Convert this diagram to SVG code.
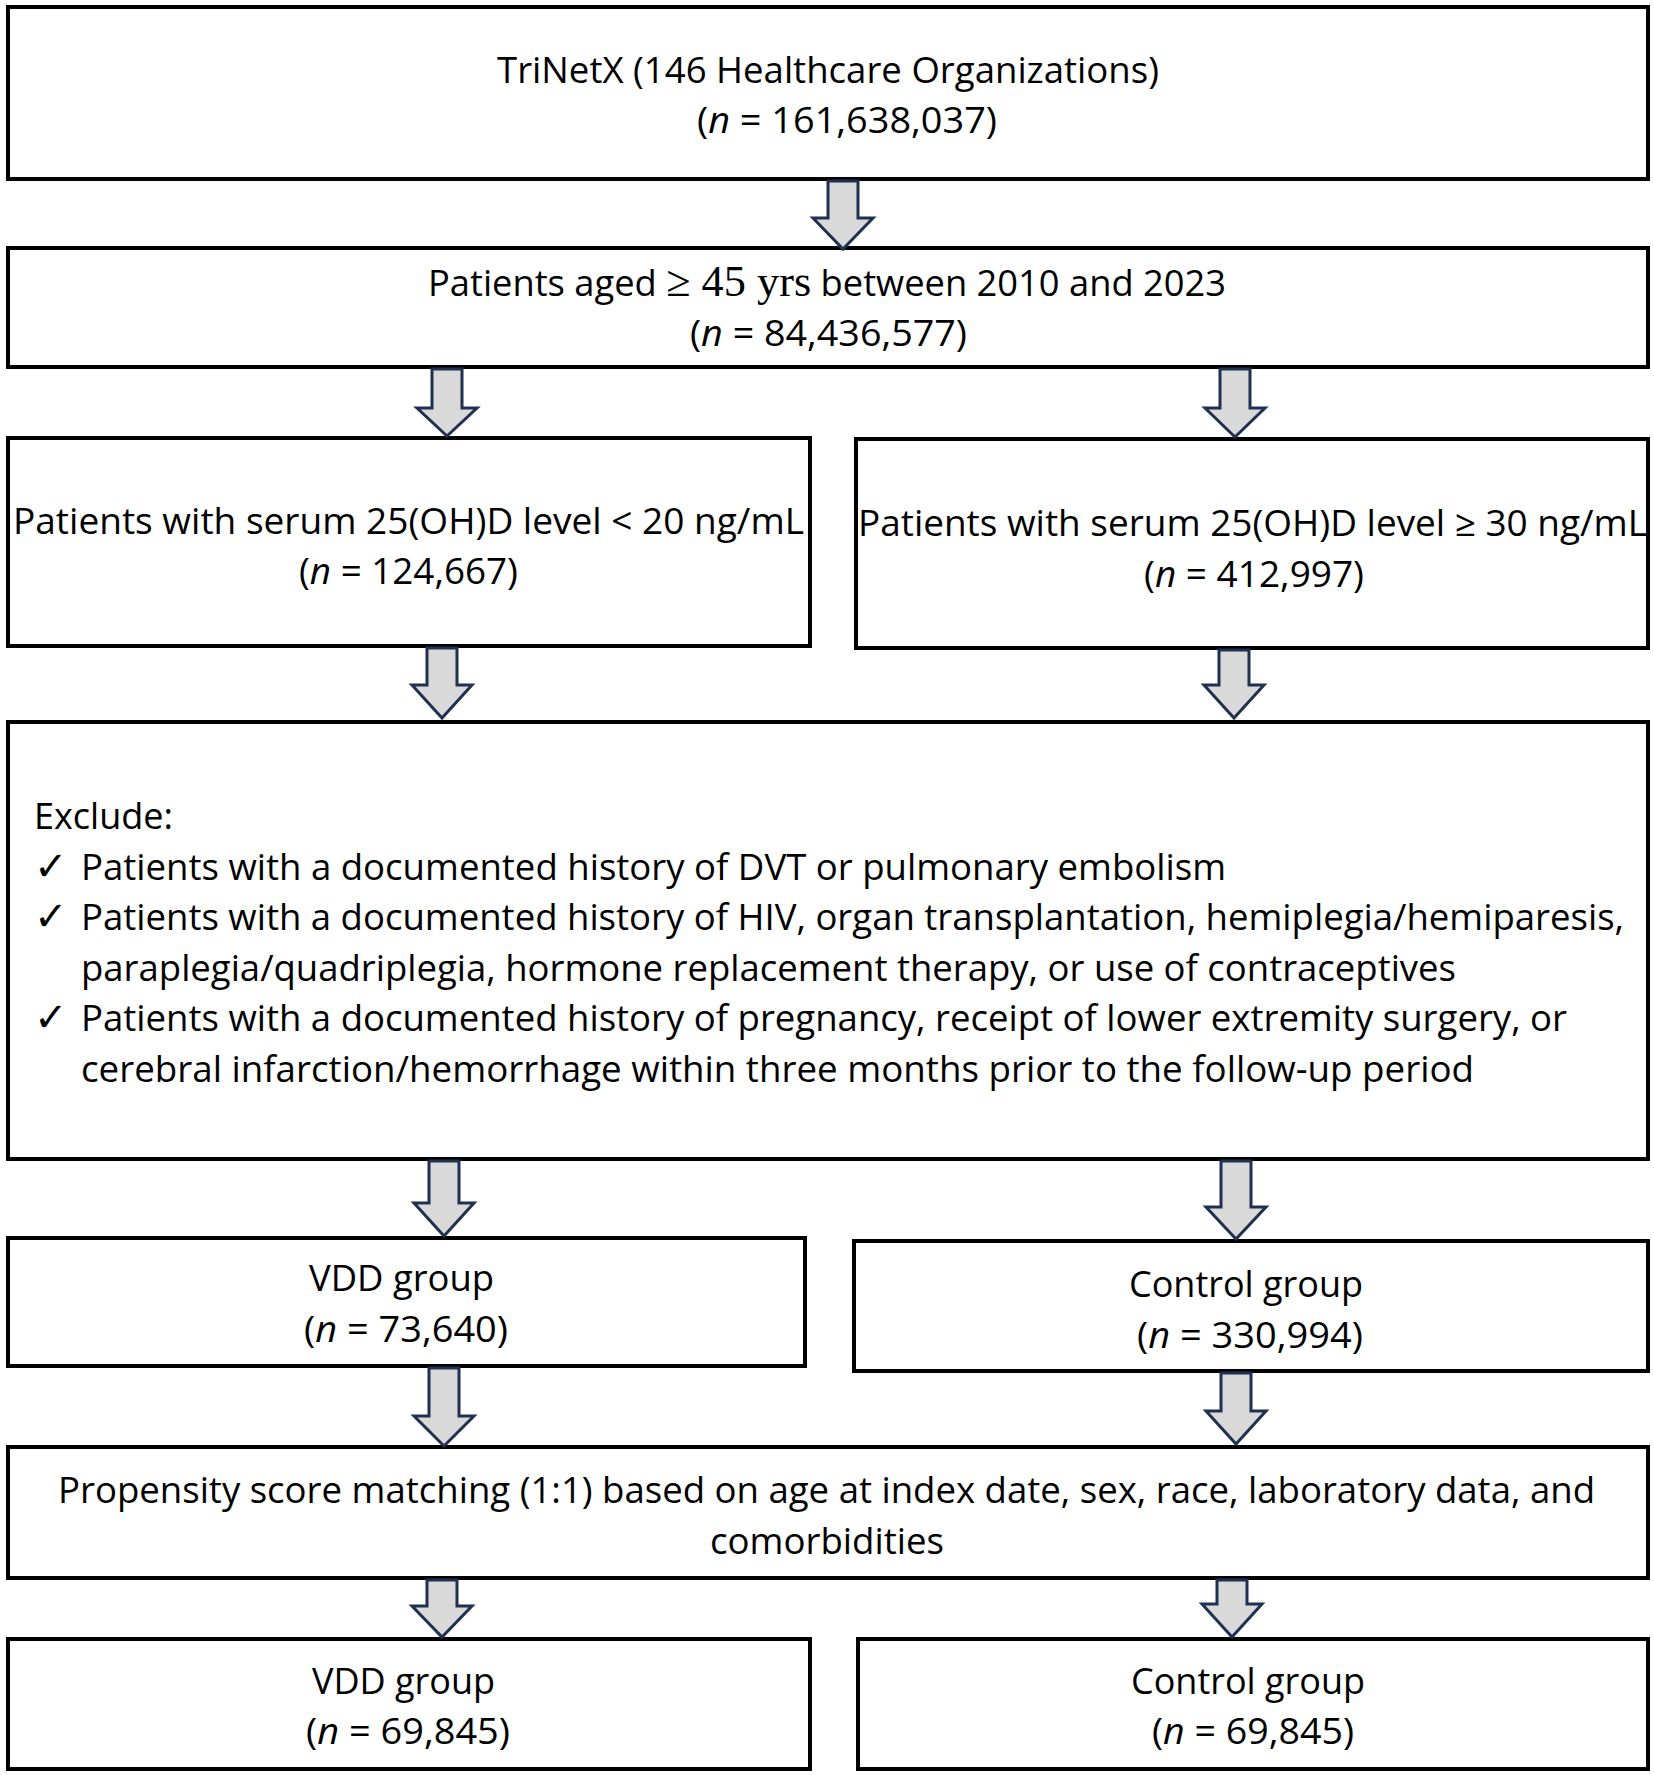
<svg xmlns="http://www.w3.org/2000/svg" width="1654" height="1775" viewBox="0 0 1654 1775">
<style>
.box{fill:#fff;stroke:#000;stroke-width:4}
.arr{fill:#d9d9d9;stroke:#1f3050;stroke-width:3;stroke-linejoin:miter}
text{font-family:"Open Sans","Noto Sans","Liberation Sans",sans-serif;font-size:36px;fill:#000}
.ser{font-family:"Liberation Serif","DejaVu Serif",serif}
.chk{font-family:"DejaVu Sans",sans-serif;font-size:40px}
</style>
<rect width="1654" height="1775" fill="#fff"/>
<g id="n1"><rect class="box" x="8" y="7" width="1640" height="172"/>
<text x="497" y="83" textLength="662" lengthAdjust="spacingAndGlyphs">TriNetX (146 Healthcare Organizations)</text>
<text x="697" y="133" textLength="300" lengthAdjust="spacingAndGlyphs">(<tspan font-style="italic">n</tspan> = 161,638,037)</text></g>
<g id="n2"><rect class="box" x="8" y="248" width="1640" height="119"/>
<text x="428" y="296" textLength="798" lengthAdjust="spacingAndGlyphs">Patients aged <tspan class="ser" font-size="44">≥ 45 yrs</tspan> between 2010 and 2023</text>
<text x="690" y="346" textLength="277" lengthAdjust="spacingAndGlyphs">(<tspan font-style="italic">n</tspan> = 84,436,577)</text></g>
<g id="n3"><rect class="box" x="8" y="438" width="802" height="208"/>
<text x="13" y="534" textLength="791" lengthAdjust="spacingAndGlyphs">Patients with serum 25(OH)D level &lt; 20 ng/mL</text>
<text x="299" y="584" textLength="219" lengthAdjust="spacingAndGlyphs">(<tspan font-style="italic">n</tspan> = 124,667)</text></g>
<g id="n4"><rect class="box" x="856" y="439" width="792" height="209"/>
<text x="858" y="536" textLength="789" lengthAdjust="spacingAndGlyphs">Patients with serum 25(OH)D level ≥ 30 ng/mL</text>
<text x="1144" y="587" textLength="220" lengthAdjust="spacingAndGlyphs">(<tspan font-style="italic">n</tspan> = 412,997)</text></g>
<g id="n5"><rect class="box" x="8" y="722" width="1640" height="437"/>
<text x="34" y="829" textLength="139" lengthAdjust="spacingAndGlyphs">Exclude:</text>
<text class="chk" x="34" y="880">✓</text>
<text x="81" y="880" textLength="1145" lengthAdjust="spacingAndGlyphs">Patients with a documented history of DVT or pulmonary embolism</text>
<text class="chk" x="34" y="930">✓</text>
<text x="81" y="930" textLength="1543" lengthAdjust="spacingAndGlyphs">Patients with a documented history of HIV, organ transplantation, hemiplegia/hemiparesis,</text>
<text x="81" y="981" textLength="1375" lengthAdjust="spacingAndGlyphs">paraplegia/quadriplegia, hormone replacement therapy, or use of contraceptives</text>
<text class="chk" x="34" y="1031">✓</text>
<text x="81" y="1031" textLength="1486" lengthAdjust="spacingAndGlyphs">Patients with a documented history of pregnancy, receipt of lower extremity surgery, or</text>
<text x="81" y="1082" textLength="1393" lengthAdjust="spacingAndGlyphs">cerebral infarction/hemorrhage within three months prior to the follow-up period</text></g>
<g id="n6"><rect class="box" x="8" y="1238" width="797" height="128"/>
<text x="309" y="1291" textLength="185" lengthAdjust="spacingAndGlyphs">VDD group</text>
<text x="304" y="1342" textLength="204" lengthAdjust="spacingAndGlyphs">(<tspan font-style="italic">n</tspan> = 73,640)</text></g>
<g id="n7"><rect class="box" x="854" y="1241" width="794" height="130"/>
<text x="1129" y="1297" textLength="234" lengthAdjust="spacingAndGlyphs">Control group</text>
<text x="1137" y="1348" textLength="226" lengthAdjust="spacingAndGlyphs">(<tspan font-style="italic">n</tspan> = 330,994)</text></g>
<g id="n8"><rect class="box" x="8" y="1447" width="1640" height="131"/>
<text x="58" y="1503" textLength="1537" lengthAdjust="spacingAndGlyphs">Propensity score matching (1:1) based on age at index date, sex, race, laboratory data, and</text>
<text x="710" y="1554" textLength="234" lengthAdjust="spacingAndGlyphs">comorbidities</text></g>
<g id="n9"><rect class="box" x="8" y="1639" width="802" height="130"/>
<text x="312" y="1694" textLength="183" lengthAdjust="spacingAndGlyphs">VDD group</text>
<text x="306" y="1744" textLength="204" lengthAdjust="spacingAndGlyphs">(<tspan font-style="italic">n</tspan> = 69,845)</text></g>
<g id="n10"><rect class="box" x="858" y="1639" width="790" height="130"/>
<text x="1131" y="1694" textLength="234" lengthAdjust="spacingAndGlyphs">Control group</text>
<text x="1152" y="1744" textLength="202" lengthAdjust="spacingAndGlyphs">(<tspan font-style="italic">n</tspan> = 69,845)</text></g>
<g id="connectors">
<path class="arr" d="M828,181 L858,181 L858,218 L873,218 L843,249 L813,218 L828,218 Z"/>
<path class="arr" d="M432,369 L462,369 L462,408 L477,408 L447,436 L417,408 L432,408 Z"/>
<path class="arr" d="M1220,369 L1250,369 L1250,408 L1265,408 L1235,437 L1205,408 L1220,408 Z"/>
<path class="arr" d="M427,648 L457,648 L457,685 L472,685 L442,718 L412,685 L427,685 Z"/>
<path class="arr" d="M1219,650 L1249,650 L1249,685 L1264,685 L1234,718 L1204,685 L1219,685 Z"/>
<path class="arr" d="M429,1161 L459,1161 L459,1203 L474,1203 L444,1236 L414,1203 L429,1203 Z"/>
<path class="arr" d="M1221,1161 L1251,1161 L1251,1207 L1266,1207 L1236,1239 L1206,1207 L1221,1207 Z"/>
<path class="arr" d="M429,1368 L459,1368 L459,1416 L474,1416 L444,1446 L414,1416 L429,1416 Z"/>
<path class="arr" d="M1221,1373 L1251,1373 L1251,1411 L1266,1411 L1236,1444 L1206,1411 L1221,1411 Z"/>
<path class="arr" d="M427,1580 L457,1580 L457,1606 L472,1606 L442,1637 L412,1606 L427,1606 Z"/>
<path class="arr" d="M1217,1580 L1247,1580 L1247,1604 L1262,1604 L1232,1637 L1202,1604 L1217,1604 Z"/>
</g>
</svg>
